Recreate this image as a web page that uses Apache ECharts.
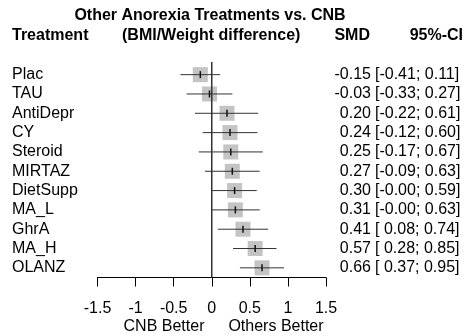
<!DOCTYPE html>
<html>
<head>
<meta charset="utf-8">
<style>
  html, body { margin: 0; padding: 0; background: #fff; }
  #chart { width: 467px; height: 336px; }
</style>
<script src="https://cdn.jsdelivr.net/npm/echarts@6/dist/echarts.min.js"></script>
</head>
<body>
<div id="chart"></div>
<script>
// Standardised mean differences of each treatment against CNB
const treatments = ['Plac', 'TAU', 'AntiDepr', 'CY', 'Steroid', 'MIRTAZ', 'DietSupp', 'MA_L', 'GhrA', 'MA_H', 'OLANZ'];
const smd   = [-0.15, -0.03, 0.20, 0.24, 0.25, 0.27, 0.30, 0.31, 0.41, 0.57, 0.66];
const lower = [-0.41, -0.33, -0.22, -0.12, -0.17, -0.09, -0.00, -0.00, 0.08, 0.28, 0.37];
const upper = [0.11, 0.27, 0.61, 0.60, 0.67, 0.63, 0.59, 0.63, 0.74, 0.85, 0.95];
const xTicks = [-1.5, -1, -0.5, 0, 0.5, 1, 1.5];
const xTickLabels = ['-1.5', '-1', '-0.5', '0', '0.5', '1', '1.5'];

const FONT = '"Liberation Sans", Arial, sans-serif';
const isNeg = v => v < 0 || Object.is(v, -0);
const fmt = v => (isNeg(v) ? '-' : '') + Math.abs(v).toFixed(2);

// CI text: "[-0.41; 0.11]", padded with a space when the lower bound is non-negative
const ciText = treatments.map((_, i) =>
  '[' + (isNeg(lower[i]) ? '' : ' ') + fmt(lower[i]) + '; ' + fmt(upper[i]) + ']'
);

const chart = echarts.init(document.getElementById('chart'), null, { renderer: 'canvas' });

const BOX = 15;

const catAxis = (extra) => Object.assign({
  type: 'category', data: treatments, inverse: true,
  axisLine: { show: false }, axisTick: { show: false }, splitLine: { show: false }
}, extra);

const option = {
  animation: false,
  textStyle: { fontFamily: FONT },
  grid: { left: 97.5, right: 141, top: 65, bottom: 58.5, containLabel: false },
  xAxis: {
    type: 'value',
    min: -1.5, max: 1.5, interval: 0.5,
    axisLine: { show: true, lineStyle: { color: '#000', width: 1 } },
    axisTick: { show: true, length: 9, lineStyle: { color: '#000', width: 1 } },
    axisLabel: {
      margin: 23, color: '#000', fontSize: 16, fontFamily: FONT,
      formatter: v => {
        const k = xTicks.findIndex(t => Math.abs(t - v) < 1e-9);
        return k >= 0 ? xTickLabels[k] : '';
      }
    },
    splitLine: { show: false }
  },
  yAxis: [
    catAxis({
      position: 'left',
      axisLabel: { interval: 0, align: 'left', margin: 85.5, color: '#000', fontSize: 16, fontFamily: FONT }
    }),
    catAxis({
      position: 'right',
      axisLabel: {
        interval: 0, align: 'right', margin: 45, color: '#000', fontSize: 16, fontFamily: FONT,
        formatter: (v, i) => fmt(smd[i])
      }
    }),
    catAxis({
      position: 'right',
      axisLabel: {
        interval: 0, align: 'left', margin: 49, color: '#000', fontSize: 16, fontFamily: FONT,
        formatter: (v, i) => ciText[i]
      }
    })
  ],
  series: [
    {
      // square at each estimate with its confidence interval
      type: 'custom',
      xAxisIndex: 0, yAxisIndex: 0,
      data: treatments.map((t, i) => [smd[i], i, lower[i], upper[i]]),
      encode: { x: 0, y: 1 },
      renderItem: (params, api) => {
        const c = api.coord([api.value(0), api.value(1)]);
        const lo = api.coord([api.value(2), api.value(1)]);
        const hi = api.coord([api.value(3), api.value(1)]);
        return {
          type: 'group',
          children: [
            { type: 'rect', shape: { x: c[0] - BOX / 2, y: c[1] - BOX / 2, width: BOX, height: BOX },
              style: { fill: '#c4c4c4' } },
            { type: 'line', shape: { x1: lo[0], y1: c[1], x2: hi[0], y2: c[1] },
              style: { stroke: '#333', lineWidth: 1 } },
            { type: 'line', shape: { x1: c[0], y1: c[1] - 3.5, x2: c[0], y2: c[1] + 3.5 },
              style: { stroke: '#111', lineWidth: 1.5 } }
          ]
        };
      },
      z: 2
    },
    {
      // line of no effect at SMD = 0
      type: 'custom',
      xAxisIndex: 0, yAxisIndex: 0,
      data: [[0, 0]],
      encode: { x: 0, y: 1 },
      renderItem: (params, api) => {
        const x = api.coord([api.value(0), 0])[0];
        const cs = params.coordSys;
        return {
          type: 'line',
          shape: { x1: x, y1: cs.y - 3, x2: x, y2: cs.y + cs.height },
          style: { stroke: '#333', lineWidth: 1.5 }
        };
      },
      z: 3
    }
  ],
  graphic: [
    { type: 'text', style: { text: 'Other Anorexia Treatments vs. CNB', x: 210, y: 16, align: 'center', verticalAlign: 'middle', font: 'bold 16px ' + FONT, fill: '#000' } },
    { type: 'text', style: { text: 'Treatment', x: 12, y: 36, align: 'left', verticalAlign: 'middle', font: 'bold 16px ' + FONT, fill: '#000' } },
    { type: 'text', style: { text: '(BMI/Weight difference)', x: 122, y: 36, align: 'left', verticalAlign: 'middle', font: 'bold 16px ' + FONT, fill: '#000' } },
    { type: 'text', style: { text: 'SMD', x: 370, y: 36, align: 'right', verticalAlign: 'middle', font: 'bold 16px ' + FONT, fill: '#000' } },
    { type: 'text', style: { text: '95%-CI', x: 463, y: 36, align: 'right', verticalAlign: 'middle', font: 'bold 16px ' + FONT, fill: '#000' } },
    { type: 'text', style: { text: 'CNB Better', x: 164, y: 327, align: 'center', verticalAlign: 'middle', font: '16px ' + FONT, fill: '#000' } },
    { type: 'text', style: { text: 'Others Better', x: 276, y: 327, align: 'center', verticalAlign: 'middle', font: '16px ' + FONT, fill: '#000' } }
  ]
};

chart.setOption(option);
</script>
</body>
</html>
